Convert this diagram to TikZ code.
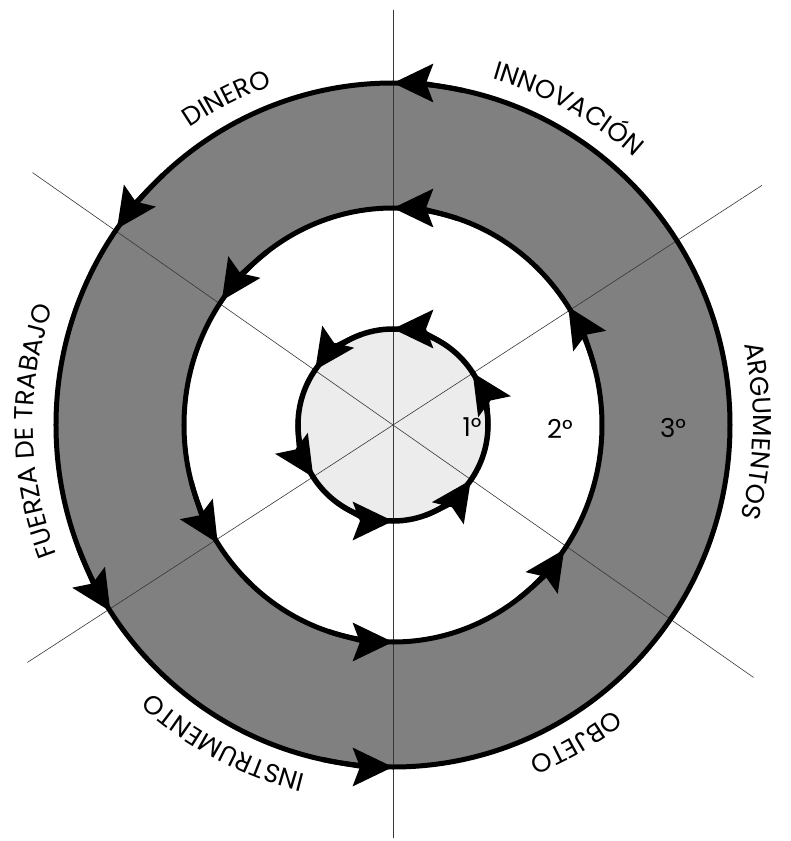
\documentclass[tikz,border=0pt]{standalone}
\usepackage{fontspec}
\setmainfont{Poppins}
\usepackage{xcolor}
\usepackage{tikz}
\usetikzlibrary{arrows.meta,decorations.text}
\definecolor{ringgray}{RGB}{128,128,128}
\definecolor{discgray}{RGB}{236,236,236}
\definecolor{spokegray}{RGB}{55,55,55}
\newcommand{\ringlabelfont}{\fontsize{26}{30}\selectfont}

\begin{document}
\begin{tikzpicture}[
    x=1pt,
    y=1pt,
    cycleline/.style={
        draw=black,
        line width=5pt
    },
    spoke/.style={
        draw=spokegray,
        line width=0.6pt
    },
    flowarrow/.style={
        draw=black,
        line width=5pt,
        -{Stealth[length=40pt, width=38pt, inset=7pt]}
    },
    ringlabel/.style={
        decorate,
        decoration={
            text along path,
            text align=center,
            text={|\ringlabelfont|#1}
        }
    },
    stagelabel/.style={
        font=\fontsize{26}{30}\selectfont,
        inner sep=0pt
    }
]

\useasboundingbox (-393,-416) rectangle (398,425);

\coordinate (centre) at (0,0);

% shaded ring and disc
\fill[ringgray, even odd rule] (centre) ellipse [x radius=337, y radius=342]
    (centre) ellipse [x radius=209, y radius=217];
\fill[discgray] (centre) ellipse [x radius=95, y radius=96];

% spokes
\draw[spoke] (90:415) -- (270:413);
\draw[spoke] (145:440) -- (325:440);
\draw[spoke] (33:440) -- (213:436);

% the three cycles
\draw[cycleline] (centre) ellipse [x radius=337, y radius=342];
\draw[cycleline] (centre) ellipse [x radius=209, y radius=217];
\draw[cycleline, line width=5.5pt] (centre) ellipse [x radius=95, y radius=96];

% outer cycle arrows
\draw[flowarrow] (78:337 and 342) arc[start angle=78, end angle=90, x radius=337, y radius=342];
\draw[flowarrow] (133:337 and 342) arc[start angle=133, end angle=145, x radius=337, y radius=342];
\draw[flowarrow] (201:337 and 342) arc[start angle=201, end angle=213, x radius=337, y radius=342];
\draw[flowarrow] (258:337 and 342) arc[start angle=258, end angle=270, x radius=337, y radius=342];

% middle cycle arrows
\draw[flowarrow] (15:209 and 217) arc[start angle=15, end angle=33, x radius=209, y radius=217];
\draw[flowarrow] (72:209 and 217) arc[start angle=72, end angle=90, x radius=209, y radius=217];
\draw[flowarrow] (127:209 and 217) arc[start angle=127, end angle=145, x radius=209, y radius=217];
\draw[flowarrow] (195:209 and 217) arc[start angle=195, end angle=213, x radius=209, y radius=217];
\draw[flowarrow] (252:209 and 217) arc[start angle=252, end angle=270, x radius=209, y radius=217];
\draw[flowarrow] (307:209 and 217) arc[start angle=307, end angle=325, x radius=209, y radius=217];

% inner cycle arrows
\draw[flowarrow] (-3:95 and 96) arc[start angle=-3, end angle=33, x radius=95, y radius=96];
\draw[flowarrow] (54:95 and 96) arc[start angle=54, end angle=90, x radius=95, y radius=96];
\draw[flowarrow] (109:95 and 96) arc[start angle=109, end angle=145, x radius=95, y radius=96];
\draw[flowarrow] (177:95 and 96) arc[start angle=177, end angle=213, x radius=95, y radius=96];
\draw[flowarrow] (234:95 and 96) arc[start angle=234, end angle=270, x radius=95, y radius=96];
\draw[flowarrow] (289:95 and 96) arc[start angle=289, end angle=325, x radius=95, y radius=96];

% labels round the outside
\path[ringlabel={INNOVACIÓN}] (101:360) arc[start angle=101, end angle=21, radius=360];
\path[ringlabel={DINERO}] (157:360) arc[start angle=157, end angle=77, radius=360];
\path[ringlabel={FUERZA DE TRABAJO}] (226:360) arc[start angle=226, end angle=136, radius=360];
\path[ringlabel={ARGUMENTOS}] (44:360) arc[start angle=44, end angle=-46, radius=360];
\path[ringlabel={INSTRUMENTO}] (287:360) arc[start angle=287, end angle=197, radius=360];
\path[ringlabel={OBJETO}] (340:360) arc[start angle=340, end angle=260, radius=360];

% stage numbers
\node[stagelabel] (first) at (79,-2) {1°};
\node[stagelabel] (second) at (167,-4) {2°};
\node[stagelabel] (third) at (280,-3) {3°};

\end{tikzpicture}
\end{document}
